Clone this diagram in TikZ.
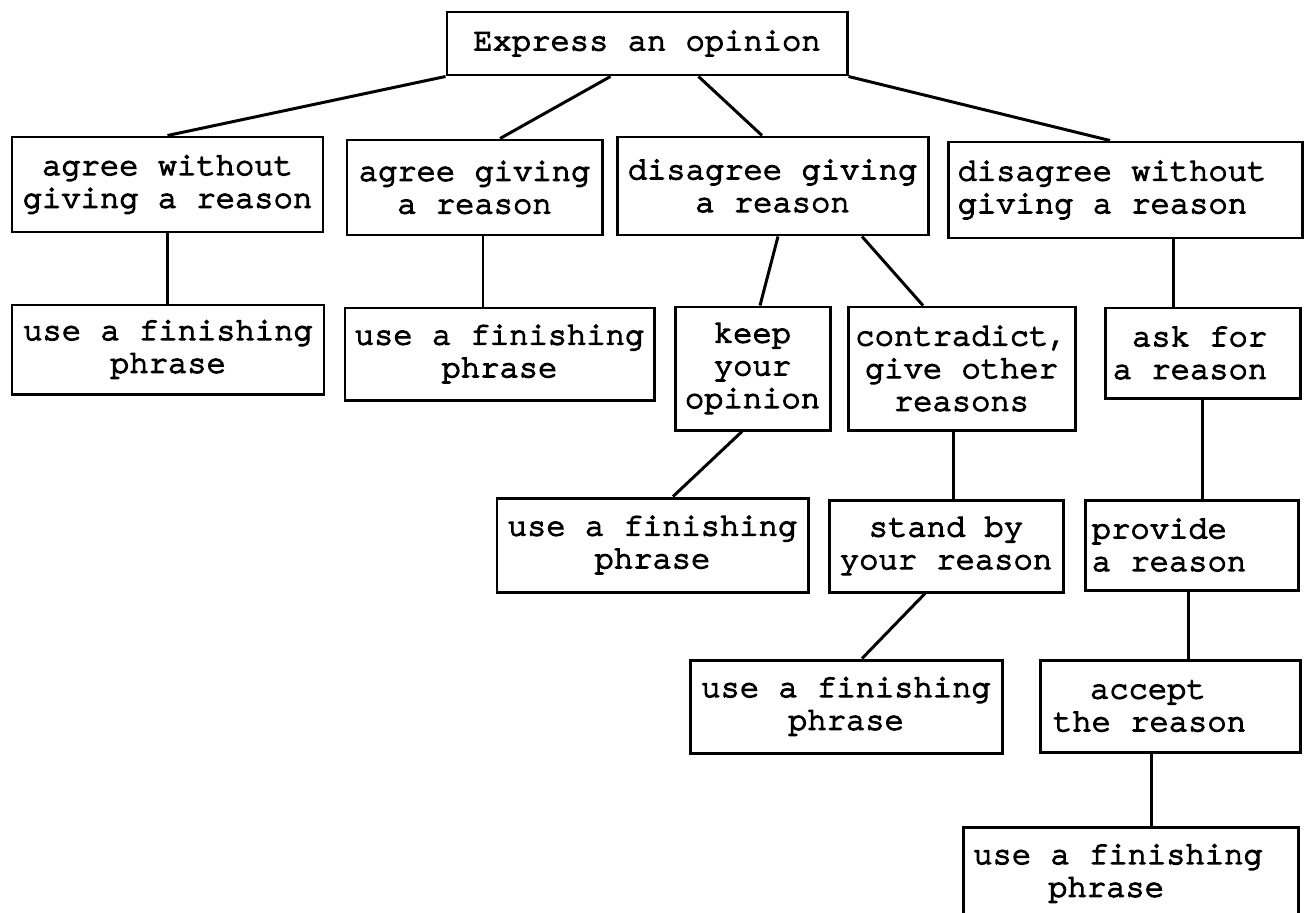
\documentclass[tikz,border=0pt]{standalone}
\usepackage{fontspec}
\setmonofont[FakeBold=4, Ligatures=NoCommon]{TeX Gyre Cursor}
\begin{document}
\begin{tikzpicture}[
box/.style={draw, rectangle, line width=1.7pt, inner sep=0pt, align=center, font=\ttfamily\fontsize{18.3}{18.6}\selectfont},
link/.style={line width=1.7pt}
]
\useasboundingbox (0,0) rectangle (26.12,-18.24);
\clip (0,0) rectangle (26.12,-18.24);

\node (expr) [box, minimum width=8cm, minimum height=1.26cm] at (12.94,-0.87) {Express an opinion};

\node (aw) [box, minimum width=6.22cm, minimum height=1.9cm] at (3.35,-3.69) {agree without\\giving a reason};
\node (ag) [box, minimum width=5.1cm, minimum height=1.9cm] at (9.49,-3.75) {agree giving\\a reason};
\node (dg) [box, minimum width=6.22cm, minimum height=1.96cm] at (15.45,-3.72) {disagree giving\\a reason};
\node (dw) [box, minimum width=7.08cm, minimum height=1.92cm, align=left] at (22.5,-3.8) {disagree without\rule{0.52cm}{0pt}\\giving a reason};

\node (fin1) [box, minimum width=6.24cm, minimum height=1.78cm] at (3.36,-6.99) {use a finishing\\phrase};
\node (fin2) [box, minimum width=6.18cm, minimum height=1.84cm] at (9.99,-7.08) {use a finishing\\phrase};
\node (keep) [box, minimum width=3.1cm, minimum height=2.46cm] at (15.05,-7.37) {keep\\your\\opinion};
\node (contra) [box, minimum width=4.54cm, minimum height=2.46cm] at (19.23,-7.37) {contradict,\\give other\\reasons};
\node (ask) [box, minimum width=3.9cm, minimum height=1.8cm, align=right] at (24.05,-7.06) {ask for\rule{0.5cm}{0pt}\\a reason\rule{0.5cm}{0pt}};

\node (fin3) [box, minimum width=6.22cm, minimum height=1.88cm] at (13.05,-10.9) {use a finishing\\phrase};
\node (stand) [box, minimum width=4.68cm, minimum height=1.84cm] at (18.92,-10.92) {stand by\\your reason};
\node (provide) [box, minimum width=4.26cm, minimum height=1.8cm, align=left] at (23.83,-10.9) {provide\\a reason\rule{0.9cm}{0pt}};

\node (fin4) [box, minimum width=6.24cm, minimum height=1.86cm] at (16.92,-14.13) {use a finishing\\phrase};
\node (accept) [box, minimum width=5.2cm, minimum height=1.84cm, align=left] at (23.4,-14.12) {\hspace*{0.74cm}accept\\the reason\rule{0.82cm}{0pt}};

\node (fin5) [box, minimum width=6.7cm, minimum height=1.86cm, align=left] at (22.61,-17.47) {use a finishing\rule{0.5cm}{0pt}\\\hspace*{1.5cm}phrase};

\draw[link] (expr.south west) -- (aw.north);
\draw[link] ([xshift=3.3cm]expr.south west) -- ([xshift=0.51cm]ag.north);
\draw[link] ([xshift=5.06cm]expr.south west) -- ([xshift=-0.21cm]dg.north);
\draw[link] (expr.south east) -- ([xshift=-0.3cm]dw.north);

\draw[link] (aw.south) -- (aw.south |- fin1.north);
\draw[link] ([xshift=0.17cm]ag.south) -- ([xshift=0.17cm]ag.south |- fin2.north);
\draw[link] ([xshift=0.11cm]dg.south) -- ([xshift=0.15cm]keep.north);
\draw[link] ([xshift=1.79cm]dg.south) -- ([xshift=-0.77cm]contra.north);
\draw[link] ([xshift=0.96cm]dw.south) -- ([xshift=0.96cm]dw.south |- ask.north);

\draw[link] ([xshift=-0.21cm]keep.south) -- ([xshift=0.41cm]fin3.north);
\draw[link] ([xshift=-0.17cm]contra.south) -- ([xshift=-0.17cm]contra.south |- stand.north);
\draw[link] (ask.south) -- (ask.south |- provide.north);

\draw[link] ([xshift=-0.42cm]stand.south) -- ([xshift=0.32cm]fin4.north);
\draw[link] ([xshift=-0.07cm]provide.south) -- ([xshift=-0.07cm]provide.south |- accept.north);
\draw[link] ([xshift=-0.38cm]accept.south) -- ([xshift=-0.38cm]accept.south |- fin5.north);

\end{tikzpicture}
\end{document}
